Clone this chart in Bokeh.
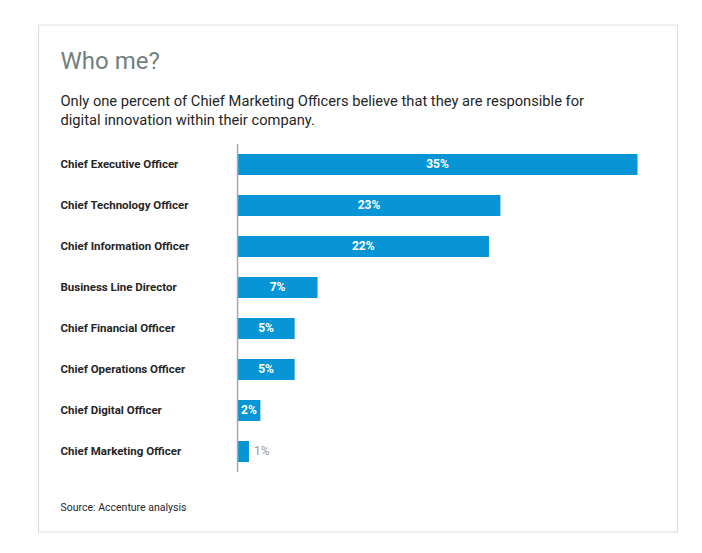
from bokeh.plotting import figure
from bokeh.models import (ColumnDataSource, Range1d, Label, LabelSet, BoxAnnotation)
from bokeh.core.properties import value
from bokeh.embed import file_html
from bokeh.resources import INLINE

categories = ["Chief Executive Officer", "Chief Technology Officer",
              "Chief Information Officer", "Business Line Director",
              "Chief Financial Officer", "Chief Operations Officer",
              "Chief Digital Officer", "Chief Marketing Officer"]
percent = [35, 23, 22, 7, 5, 5, 2, 1]

title_text = "Who me?"
subtitle_lines = ["Only one percent of Chief Marketing Officers believe that they are responsible for",
                  "digital innovation within their company."]
source_text = "Source: Accenture analysis"

FONT = "Roboto"
W, H = 700, 551
DARK = "#262626"

pos = list(range(len(categories)))
src = ColumnDataSource(dict(cat=categories, pos=pos, val=percent))
inside = ColumnDataSource(dict(pos=[i for i, v in zip(pos, percent) if v >= 2],
                               mid=[v / 2 for v in percent if v >= 2],
                               lab=[f"{v}%" for v in percent if v >= 2]))
outside = ColumnDataSource(dict(pos=[i for i, v in zip(pos, percent) if v < 2],
                                val=[v for v in percent if v < 2],
                                lab=[f"{v}%" for v in percent if v < 2]))

p = figure(width=W, height=H, output_backend="svg", toolbar_location=None,
           x_range=Range1d(-20.74, 40.51), y_range=Range1d(9.44, -4.0),
           min_border=0)
p.xaxis.visible = False
p.yaxis.visible = False
p.grid.visible = False
p.outline_line_color = None
p.background_fill_color = "white"
p.border_fill_color = "white"

p.hbar(y="pos", right="val", left=0, height=0.51, source=src,
       fill_color="#0795d6", line_color=None)

# category axis line
p.segment(x0=0, x1=0, y0=-0.5, y1=len(categories) - 0.5,
          line_color="#a8a8a8", line_width=1.5)

p.text(x="mid", y="pos", text="lab", source=inside, text_color="white",
       text_font=value(FONT), text_font_size="12px", text_font_style="bold",
       text_align="center", text_baseline="middle")
p.text(x="val", y="pos", text="lab", source=outside, text_color="#9a9a9a",
       text_font=value(FONT), text_font_size="12px",
       text_align="left", text_baseline="middle", x_offset=5)

p.add_layout(LabelSet(x=60, y="pos", x_units="screen", text="cat", source=src,
                      text_font=value(FONT), text_font_size="11.5px", text_font_style="bold",
                      text_color=DARK, text_align="left", text_baseline="middle"))

p.add_layout(Label(x=60, y=491, x_units="screen", y_units="screen", text=title_text,
                   text_font=FONT, text_font_size="24px", text_color="#728180",
                   text_baseline="alphabetic"))
for i, line in enumerate(subtitle_lines):
    p.add_layout(Label(x=60, y=451 - 19 * i, x_units="screen", y_units="screen", text=line,
                       text_font=FONT, text_font_size="14.7px", text_color=DARK,
                       text_baseline="alphabetic"))
p.add_layout(Label(x=60, y=44, x_units="screen", y_units="screen", text=source_text,
                   text_font=FONT, text_font_size="10.5px", text_color=DARK,
                   text_baseline="alphabetic"))

p.add_layout(BoxAnnotation(left=38, right=677, top=526.5, bottom=19.5,
                           left_units="screen", right_units="screen",
                           top_units="screen", bottom_units="screen",
                           fill_alpha=0, line_color="#8a8a8a", line_width=1))

open("out.html", "w").write(file_html(p, INLINE))
